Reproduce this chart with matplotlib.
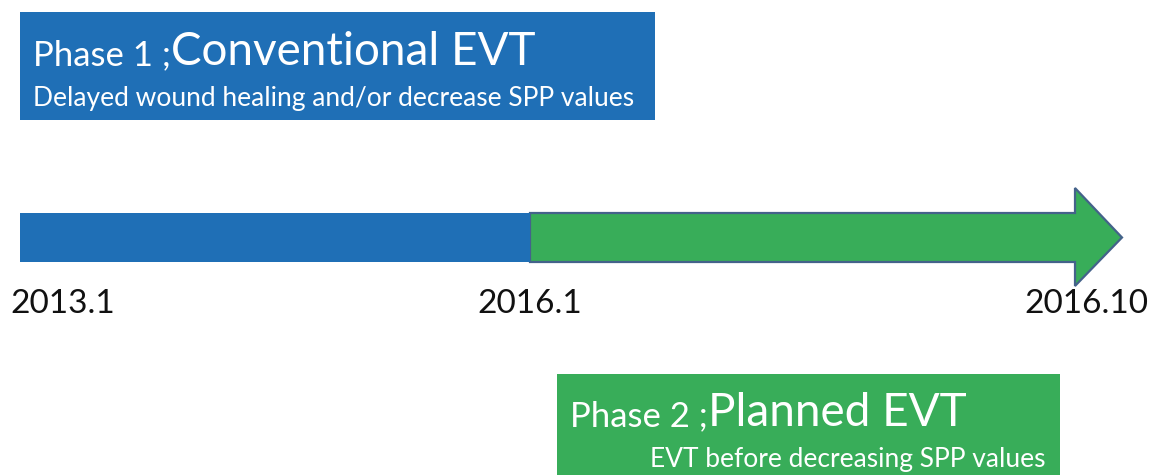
import matplotlib.pyplot as plt
from matplotlib.patches import Rectangle, Polygon

plt.rcParams['font.family'] = ['Lato', 'DejaVu Sans']

# timeline data
date_labels = ['2013.1', '2016.1', '2016.10']
phase_names = ['Phase 1 ;', 'Phase 2 ;']
phase_titles = ['Conventional EVT', 'Planned EVT']
phase_notes = ['Delayed wound healing and/or decrease SPP values',
               'EVT before decreasing SPP values']

BLUE = '#1f6fb6'
GREEN = '#38ad59'
EDGE = '#44628a'

W, H = 1150, 475
fig = plt.figure(figsize=(W / 100, H / 100), dpi=100)
ax = fig.add_axes([0, 0, 1, 1])
ax.set_xlim(0, W)
ax.set_ylim(H, 0)
ax.axis('off')

# arrow positions along the timeline (start, phase change, tip)
x_start, x_mid, x_head, x_tip = 20, 530, 1075, 1122
y_top, y_bot, y_mid = 213, 262, 237.5
head_top, head_bot = 188, 286

arrow = Polygon([(x_mid, y_top), (x_head, y_top), (x_head, head_top), (x_tip, y_mid),
                 (x_head, head_bot), (x_head, y_bot), (x_mid, y_bot)],
                closed=True, facecolor=GREEN, edgecolor=EDGE, linewidth=1.6, zorder=2)
ax.add_patch(arrow)
ax.add_patch(Rectangle((x_start, y_top), x_mid - x_start, y_bot - y_top,
                       facecolor=BLUE, edgecolor='none', zorder=3))

# date labels
ax.text(x_start - 10, 313, date_labels[0], fontsize=24, color='#111111', ha='left', va='baseline')
ax.text(x_mid, 313, date_labels[1], fontsize=24, color='#111111', ha='center', va='baseline')
ax.text(W - 2, 313, date_labels[2], fontsize=24, color='#111111', ha='right', va='baseline')

# phase boxes
ax.add_patch(Rectangle((20, 12), 635, 108, facecolor=BLUE, edgecolor='none'))
ax.add_patch(Rectangle((557, 374), 503, 120, facecolor=GREEN, edgecolor='none'))

renderer = fig.canvas.get_renderer()


def title(x, y, small, big):
    t = ax.text(x, y, small, fontsize=25, color='white', ha='left', va='baseline')
    bb = t.get_window_extent(renderer)
    x2 = ax.transData.inverted().transform((bb.x1, bb.y0))[0]
    ax.text(x2, y, big, fontsize=33, color='white', ha='left', va='baseline')


title(33, 65, phase_names[0], phase_titles[0])
ax.text(33, 106, phase_notes[0], fontsize=19, color='white', ha='left', va='baseline')

title(570, 426, phase_names[1], phase_titles[1])
ax.text(1045, 467, phase_notes[1], fontsize=19, color='white', ha='right', va='baseline')

fig.savefig('out.png', dpi=100)
